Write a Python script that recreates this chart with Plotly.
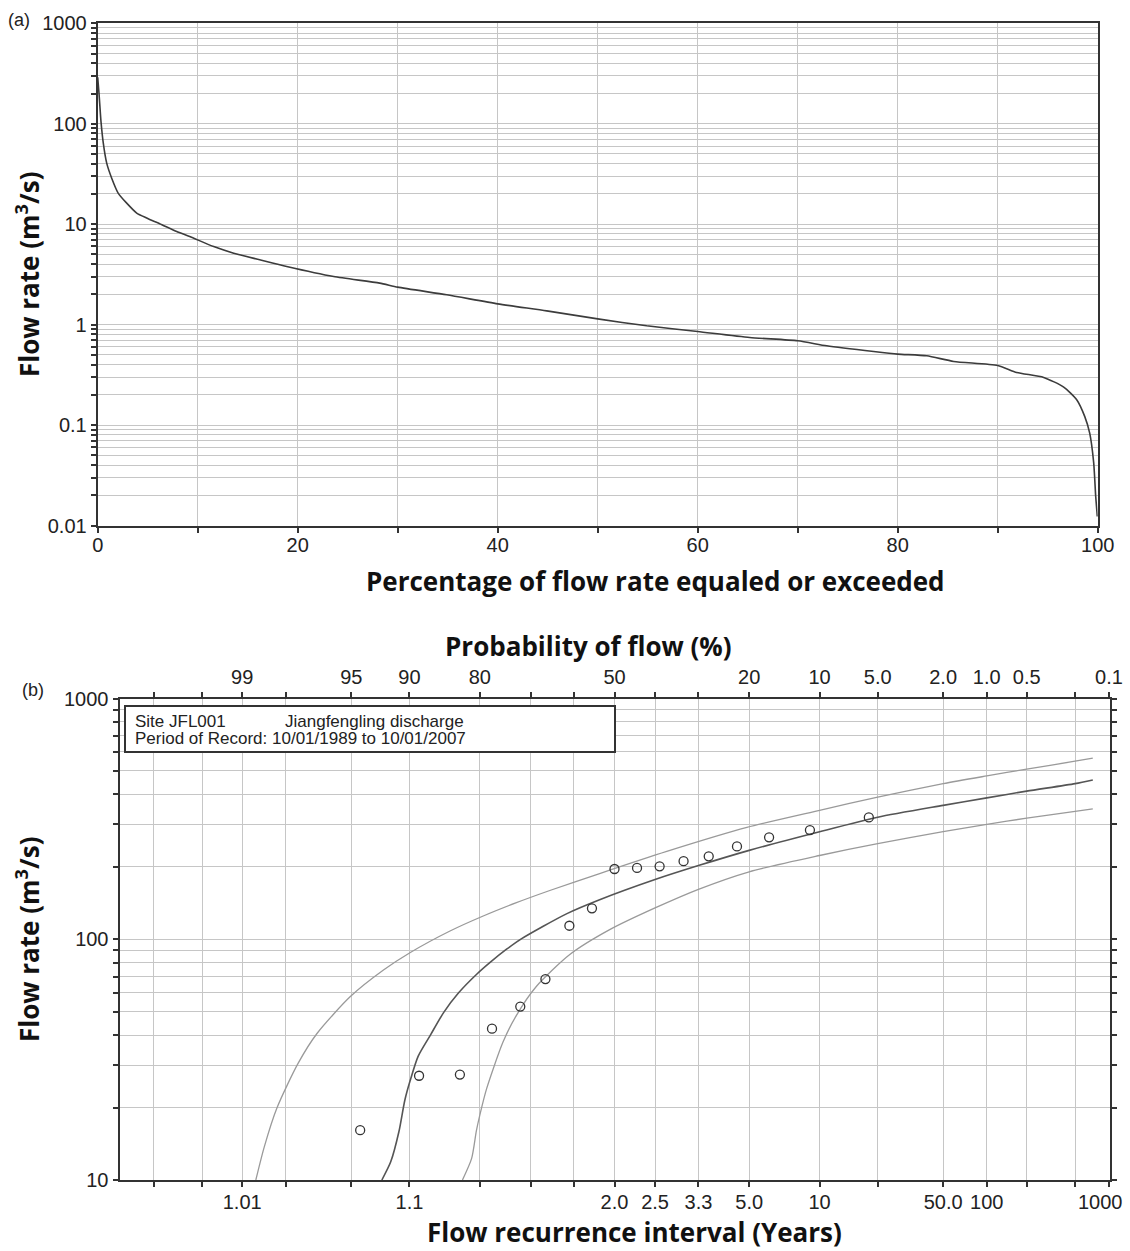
import plotly.graph_objects as go
from statistics import NormalDist

# ---------------- Panel (a): flow duration curve ----------------
fdc_pct = [0, 0.13, 0.33, 0.56, 0.9, 1.4, 2.06, 2.9, 3.9, 4.9, 5.5, 6.2, 7.9, 9.2, 11.6, 13.6,
           16.2, 18.9, 23.6, 28.2, 30, 34.9, 40, 44.9, 50, 54.9, 60, 65.2, 70, 72.9,
           77.6, 80, 82.9, 85.6, 90, 91.9, 94.6, 96.6, 97.9, 98.7, 99.2, 99.6, 99.8, 99.96]
fdc_flow = [290, 201, 105, 64, 40.5, 28.7, 20.3, 16.2, 12.9, 11.5, 10.8, 10.1, 8.44, 7.53, 5.98, 5.14,
            4.42, 3.79, 3.01, 2.59, 2.36, 1.98, 1.61, 1.37, 1.14, 0.973, 0.854, 0.744, 0.690, 0.615,
            0.540, 0.509, 0.489, 0.430, 0.392, 0.334, 0.298, 0.239, 0.179, 0.122, 0.083, 0.042, 0.0195, 0.0123]

a_xticks = [0, 10, 20, 30, 40, 50, 60, 70, 80, 90, 100]
a_xlabels = ["0", "", "20", "", "40", "", "60", "", "80", "", "100"]
a_decades = [0.01, 0.1, 1, 10, 100, 1000]
a_decade_labels = ["0.01", "0.1", "1", "10", "100", "1000"]

# ---------------- Panel (b): frequency analysis ----------------
obs_exceed_pct = [94.4, 88.9, 83.3, 77.8, 72.2, 66.7, 61.1, 55.6, 50.0, 44.4, 38.9, 33.3,
                  27.8, 22.2, 16.7, 11.1, 5.6]
obs_flow = [16.1, 27.1, 27.4, 42.5, 52.5, 68.3, 113.8, 134.4, 195.8, 197.8, 200.9, 211,
            221, 243, 265, 284, 320.6]

fit_exceed_pct = [92.7, 91.9, 91.1, 90.5, 89.9, 89.0, 87.5, 85.7, 83.5, 80.5, 78.1, 75.0,
                  71.9, 61.8, 53.7, 40, 30, 20, 10, 5, 2, 1, 0.5, 0.2, 0.14]
fit_flow = [10, 11.9, 15.9, 21.4, 26.0, 32.7, 40.0, 49.7, 59.9, 71.7, 80.3, 90.9,
            100.6, 127.5, 145.9, 177.0, 202.3, 234, 279.7, 321.4, 359.9, 386.7, 412.4, 443, 459]

upper_exceed_pct = [98.75, 98.57, 98.25, 97.6, 96.85, 95.06, 92.56, 89.9, 84.8, 79.4,
                    73.0, 65.7, 53.7, 37.2, 20.4, 10, 5, 2, 1, 0.5, 0.2, 0.14]
upper_flow = [10, 13.7, 20.0, 30.5, 40.6, 57.8, 74.5, 88.1, 108.2, 124.9,
              141.9, 159.4, 187.5, 231.7, 291.5, 343.1, 389.4, 443, 477, 509, 549, 565]

lower_exceed_pct = [82.9, 81.4, 80.6, 80.0, 78.8, 75.7, 73.0, 68.7, 61.0, 51.2, 40, 30,
                    20, 10, 5, 2, 1, 0.5, 0.2, 0.14]
lower_flow = [10, 12.3, 16.0, 18.6, 23.9, 37.4, 48.3, 63.8, 86.4, 109.6, 134.9, 161.2,
              190.7, 222.8, 249.7, 279.7, 300.2, 318.4, 339.8, 348]

prob_ticks = [99.8, 99.5, 99, 98, 95, 90, 80, 70, 60, 50, 40, 30, 20, 10, 5, 2, 1, 0.5, 0.2, 0.1]
top_labels = ["", "", "99", "", "95", "90", "80", "", "", "50", "", "", "20", "10",
              "5.0", "2.0", "1.0", "0.5", "", "0.1"]
bottom_labels = ["", "", "1.01", "", "", "1.1", "", "", "", "2.0", "2.5", "3.3", "5.0", "10",
                 "", "50.0", "100", "", "", "1000"]
b_decades = [10, 100, 1000]
b_decade_labels = ["10", "100", "1000"]

# ---------------- helpers ----------------
W, H = 1130, 1251
nd = NormalDist()


def pz(p):
    """exceedance probability (%) -> normal probability-paper coordinate"""
    return nd.inv_cdf(1 - p / 100.0)


def px(x):
    return x / W


def py(y):
    return 1 - y / H


def log_ticks(decades):
    vals = []
    for i, d in enumerate(decades):
        vals.append(d)
        if i < len(decades) - 1:
            for m in range(2, 10):
                vals.append(d * m)
    return vals


def log_text(decades, labels):
    text = []
    for i, d in enumerate(decades):
        text.append(labels[i])
        if i < len(decades) - 1:
            text.extend([""] * 8)
    return text


TICKFONT = dict(family="Liberation Sans, Arial, sans-serif", size=20, color="#222")
GRID = "#c6c6c6"
AXIS = "#333333"
TITLEFONT = dict(family="Open Sans, sans-serif", size=26, color="#111")

fig = go.Figure()

fig.add_trace(go.Scatter(x=fdc_pct, y=fdc_flow, mode="lines", xaxis="x", yaxis="y",
                         line=dict(color="#3c3c3c", width=1.6, shape="spline", smoothing=0.6),
                         hoverinfo="skip"))

fig.add_trace(go.Scatter(x=[pz(p) for p in upper_exceed_pct], y=upper_flow, mode="lines",
                         xaxis="x2", yaxis="y2",
                         line=dict(color="#9a9a9a", width=1.3, shape="spline", smoothing=0.7),
                         hoverinfo="skip"))
fig.add_trace(go.Scatter(x=[pz(p) for p in lower_exceed_pct], y=lower_flow, mode="lines",
                         xaxis="x2", yaxis="y2",
                         line=dict(color="#9a9a9a", width=1.3, shape="spline", smoothing=0.7),
                         hoverinfo="skip"))
fig.add_trace(go.Scatter(x=[pz(p) for p in fit_exceed_pct], y=fit_flow, mode="lines",
                         xaxis="x2", yaxis="y2",
                         line=dict(color="#555555", width=1.6, shape="spline", smoothing=0.7),
                         hoverinfo="skip"))
fig.add_trace(go.Scatter(x=[pz(p) for p in obs_exceed_pct], y=obs_flow, mode="markers",
                         xaxis="x2", yaxis="y2",
                         marker=dict(symbol="circle-open", size=9, color="#333",
                                     line=dict(width=1.3, color="#333")),
                         hoverinfo="skip"))
# invisible trace so the top probability axis is rendered
fig.add_trace(go.Scatter(x=[pz(50)], y=[100], mode="markers", xaxis="x3", yaxis="y2",
                         marker=dict(opacity=0), hoverinfo="skip"))

zt = [pz(p) for p in prob_ticks]
zrange = [pz(99.9) - 0.003, pz(0.1) + 0.003]

# the right-most bottom label sits slightly inside the edge in the original
edge_label = bottom_labels[-1]
bottom_tick_text = bottom_labels[:-1] + [""]

common = dict(showline=True, linecolor=AXIS, linewidth=2, ticks="outside", ticklen=5,
              tickwidth=1.5, tickcolor=AXIS, zeroline=False, showgrid=True,
              gridcolor=GRID, gridwidth=1.3, automargin=False, ticklabeloverflow="allow")

fig.update_layout(
    width=W, height=H, margin=dict(l=0, r=0, t=0, b=0, pad=0), autosize=False,
    paper_bgcolor="white", plot_bgcolor="white", showlegend=False,
    xaxis=dict(domain=[px(97.7), px(1097.7)], anchor="y", range=[0, 100],
               tickmode="array", tickvals=a_xticks, ticktext=a_xlabels,
               tickfont=TICKFONT, mirror=True, ticklabelstandoff=-5, **common),
    yaxis=dict(domain=[py(525.5), py(23.3)], anchor="x", type="log", range=[-2, 3],
               tickmode="array", tickvals=log_ticks(a_decades),
               ticktext=log_text(a_decades, a_decade_labels),
               tickfont=TICKFONT, mirror=True, **common),
    xaxis2=dict(domain=[px(119.5), px(1109.5)], anchor="y2", range=zrange,
                tickmode="array", tickvals=zt, ticktext=bottom_tick_text,
                tickfont=TICKFONT, mirror=False, ticklabelstandoff=-2, **common),
    xaxis3=dict(overlaying="x2", anchor="y2", side="top", range=zrange,
                tickmode="array", tickvals=zt, ticktext=top_labels,
                tickfont=TICKFONT, showline=True, linecolor=AXIS, linewidth=2,
                ticks="outside", ticklen=5, tickwidth=1.5, tickcolor=AXIS,
                showgrid=False, zeroline=False, automargin=False,
                ticklabeloverflow="allow"),
    yaxis2=dict(domain=[py(1180), py(698.5)], anchor="x2", type="log", range=[1, 3],
                tickmode="array", tickvals=log_ticks(b_decades),
                ticktext=log_text(b_decades, b_decade_labels),
                tickfont=TICKFONT, mirror="ticks", **common),
)

# legend / info box in panel (b)
fig.add_shape(type="rect", xref="paper", yref="paper", x0=px(125), x1=px(615),
              y0=py(752), y1=py(706), line=dict(color=AXIS, width=2), fillcolor="white",
              layer="above")

BOXFONT = dict(family="Liberation Sans, Arial, sans-serif", size=17, color="#222")
annots = [
    dict(text="Site JFL001", x=px(133), y=py(721), xanchor="left", yanchor="middle", font=BOXFONT),
    dict(text="Jiangfengling discharge", x=px(283), y=py(721), xanchor="left", yanchor="middle", font=BOXFONT),
    dict(text="Period of Record: 10/01/1989 to 10/01/2007", x=px(133), y=py(739),
         xanchor="left", yanchor="middle", font=BOXFONT),
    dict(text=edge_label, x=px(1100), y=py(1202), xanchor="center", yanchor="middle",
         font=TICKFONT),
    dict(text="(a)", x=px(6), y=py(20), xanchor="left", yanchor="middle",
         font=dict(family="Liberation Sans, Arial, sans-serif", size=18, color="#222")),
    dict(text="(b)", x=px(20), y=py(690), xanchor="left", yanchor="middle",
         font=dict(family="Liberation Sans, Arial, sans-serif", size=18, color="#222")),
    dict(text="<b>Flow rate (m<sup>3</sup>/s)</b>", x=px(28), y=py(275), textangle=-90,
         xanchor="center", yanchor="middle", font=TITLEFONT),
    dict(text="<b>Percentage of flow rate equaled or exceeded</b>", x=px(655), y=py(581),
         xanchor="center", yanchor="middle", font=TITLEFONT),
    dict(text="<b>Probability of flow (%)</b>", x=px(588), y=py(646),
         xanchor="center", yanchor="middle", font=TITLEFONT),
    dict(text="<b>Flow rate (m<sup>3</sup>/s)</b>", x=px(28), y=py(940), textangle=-90,
         xanchor="center", yanchor="middle", font=TITLEFONT),
    dict(text="<b>Flow recurrence interval (Years)</b>", x=px(634), y=py(1232),
         xanchor="center", yanchor="middle", font=TITLEFONT),
]
for a in annots:
    fig.add_annotation(xref="paper", yref="paper", showarrow=False, **a)

fig.write_html(
    "out.html",
    config={"displayModeBar": False},
    post_script="document.body.style.margin='0px';document.body.style.padding='0px';"
                "document.documentElement.style.overflow='hidden';",
)
